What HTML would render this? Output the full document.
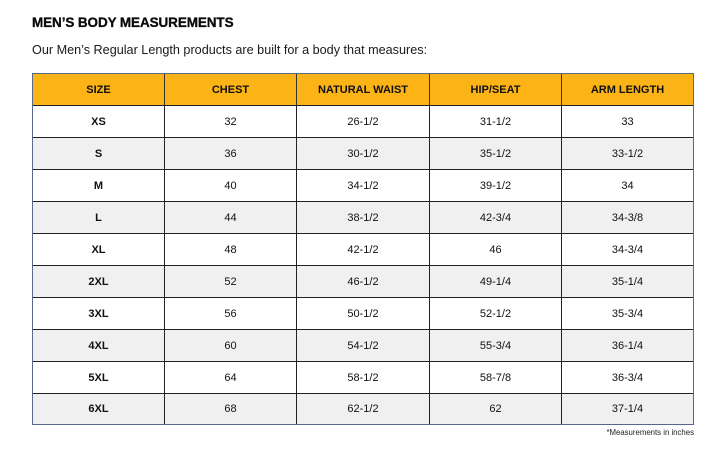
<!DOCTYPE html>
<html><head><meta charset="utf-8"><style>
html,body{margin:0;padding:0;background:#fff;}
body{width:720px;height:458px;position:relative;overflow:hidden;font-family:"Liberation Sans",Arial,sans-serif;color:#111;}
.title{position:absolute;left:32px;top:16px;font-size:13.5px;line-height:13.5px;font-weight:bold;color:#0a0a0a;white-space:nowrap;letter-spacing:-0.1px;-webkit-text-stroke:0.3px #0a0a0a;}
.sub{position:absolute;left:32px;top:42.7px;font-size:13.3px;line-height:13.3px;color:#1a1a1a;white-space:nowrap;transform:scaleX(0.95);transform-origin:left top;}
.tbl{position:absolute;left:32px;top:73px;width:662px;height:352px;box-sizing:border-box;border:1.5px solid #55698a;}
.row{position:absolute;left:0;width:100%;display:flex;}
.cell{box-sizing:border-box;display:flex;align-items:center;justify-content:center;font-size:11px;border-right:1.5px solid #222;}
.hdr{background:#fbb316;font-weight:bold;font-size:11px;color:#111;}
.hdr .cell{border-right:1.5px solid #333;}
.row .cell:last-child{border-right:none;}
.b{font-weight:bold;}
.foot{position:absolute;right:26px;top:428px;font-size:7.8px;color:#222;white-space:nowrap;}
</style></head><body>
<div class="title">MEN’S BODY MEASUREMENTS</div>
<div class="sub">Our Men’s Regular Length products are built for a body that measures:</div>
<div class="tbl"></div>
<div class="foot">*Measurements in inches</div>
<div style="position:absolute;left:33px;top:74px;width:660px;height:350px;">
  <div class="row hdr" style="top:0;height:31px;border-bottom:1.5px solid #222;">
    <div class="cell" style="width:132px">SIZE</div><div class="cell" style="width:132px">CHEST</div><div class="cell" style="width:133px">NATURAL WAIST</div><div class="cell" style="width:132px">HIP/SEAT</div><div class="cell" style="width:131px">ARM LENGTH</div>
  </div>
  <div class="row" style="top:32px;height:32px;background:#fff;border-bottom:1.5px solid #222;box-sizing:border-box;">
    <div class="cell b" style="width:132px">XS</div><div class="cell" style="width:132px">32</div><div class="cell" style="width:133px">26-1/2</div><div class="cell" style="width:132px">31-1/2</div><div class="cell" style="width:131px">33</div>
  </div>
  <div class="row" style="top:64px;height:32px;background:#f0f0f0;border-bottom:1.5px solid #222;box-sizing:border-box;">
    <div class="cell b" style="width:132px">S</div><div class="cell" style="width:132px">36</div><div class="cell" style="width:133px">30-1/2</div><div class="cell" style="width:132px">35-1/2</div><div class="cell" style="width:131px">33-1/2</div>
  </div>
  <div class="row" style="top:96px;height:32px;background:#fff;border-bottom:1.5px solid #222;box-sizing:border-box;">
    <div class="cell b" style="width:132px">M</div><div class="cell" style="width:132px">40</div><div class="cell" style="width:133px">34-1/2</div><div class="cell" style="width:132px">39-1/2</div><div class="cell" style="width:131px">34</div>
  </div>
  <div class="row" style="top:128px;height:32px;background:#f0f0f0;border-bottom:1.5px solid #222;box-sizing:border-box;">
    <div class="cell b" style="width:132px">L</div><div class="cell" style="width:132px">44</div><div class="cell" style="width:133px">38-1/2</div><div class="cell" style="width:132px">42-3/4</div><div class="cell" style="width:131px">34-3/8</div>
  </div>
  <div class="row" style="top:160px;height:32px;background:#fff;border-bottom:1.5px solid #222;box-sizing:border-box;">
    <div class="cell b" style="width:132px">XL</div><div class="cell" style="width:132px">48</div><div class="cell" style="width:133px">42-1/2</div><div class="cell" style="width:132px">46</div><div class="cell" style="width:131px">34-3/4</div>
  </div>
  <div class="row" style="top:192px;height:32px;background:#f0f0f0;border-bottom:1.5px solid #222;box-sizing:border-box;">
    <div class="cell b" style="width:132px">2XL</div><div class="cell" style="width:132px">52</div><div class="cell" style="width:133px">46-1/2</div><div class="cell" style="width:132px">49-1/4</div><div class="cell" style="width:131px">35-1/4</div>
  </div>
  <div class="row" style="top:224px;height:32px;background:#fff;border-bottom:1.5px solid #222;box-sizing:border-box;">
    <div class="cell b" style="width:132px">3XL</div><div class="cell" style="width:132px">56</div><div class="cell" style="width:133px">50-1/2</div><div class="cell" style="width:132px">52-1/2</div><div class="cell" style="width:131px">35-3/4</div>
  </div>
  <div class="row" style="top:256px;height:32px;background:#f0f0f0;border-bottom:1.5px solid #222;box-sizing:border-box;">
    <div class="cell b" style="width:132px">4XL</div><div class="cell" style="width:132px">60</div><div class="cell" style="width:133px">54-1/2</div><div class="cell" style="width:132px">55-3/4</div><div class="cell" style="width:131px">36-1/4</div>
  </div>
  <div class="row" style="top:288px;height:32px;background:#fff;border-bottom:1.5px solid #222;box-sizing:border-box;">
    <div class="cell b" style="width:132px">5XL</div><div class="cell" style="width:132px">64</div><div class="cell" style="width:133px">58-1/2</div><div class="cell" style="width:132px">58-7/8</div><div class="cell" style="width:131px">36-3/4</div>
  </div>
  <div class="row" style="top:320px;height:30px;background:#f0f0f0;box-sizing:border-box;">
    <div class="cell b" style="width:132px">6XL</div><div class="cell" style="width:132px">68</div><div class="cell" style="width:133px">62-1/2</div><div class="cell" style="width:132px">62</div><div class="cell" style="width:131px">37-1/4</div>
  </div>
</div>
</body></html>
